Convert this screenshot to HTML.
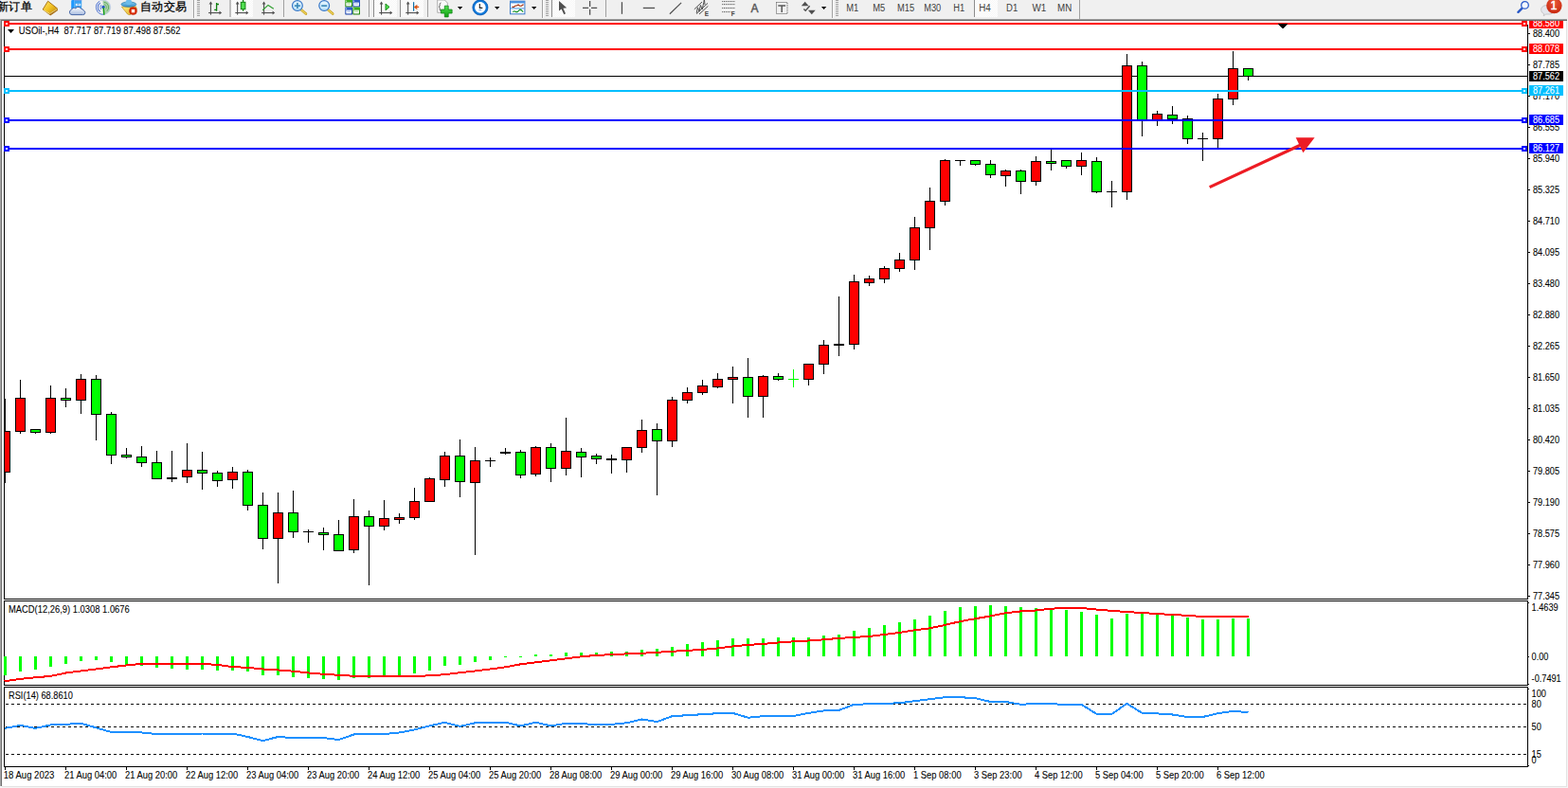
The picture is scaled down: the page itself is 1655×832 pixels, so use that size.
<!DOCTYPE html>
<html><head><meta charset="utf-8"><title>USOil H4</title>
<style>html,body{margin:0;padding:0;background:#fff;overflow:hidden}svg{display:block}text{font-family:"Liberation Sans",sans-serif;white-space:pre}</style>
</head><body>
<svg width="1655" height="832" viewBox="0 0 1655 832">
<rect x="0" y="0" width="1655" height="832" fill="#fff"/>
<rect x="0" y="0" width="1655" height="20" fill="#f0f0f0"/>
<rect x="0" y="20" width="1654" height="1" fill="#a0a0a0"/>
<rect x="1" y="21" width="1653" height="1" fill="#696969"/>
<rect x="0" y="20" width="1" height="811" fill="#a6a6a6"/>
<rect x="1" y="21" width="1" height="809" fill="#6e6e6e"/>
<rect x="1653" y="22" width="1" height="808" fill="#e3e3e3"/>
<rect x="1654" y="20" width="1" height="812" fill="#f6f6f6"/>
<rect x="0" y="830" width="1655" height="2" fill="#f6f6f6"/>
<rect x="2" y="830" width="1652" height="1" fill="#e3e3e3"/>
<g shape-rendering="crispEdges">
<rect x="5" y="80" width="1607" height="1" fill="#000"/>
<clipPath id="cc"><rect x="5" y="22" width="1607" height="610"/></clipPath><g clip-path="url(#cc)">
<rect x="5" y="421" width="1" height="89" fill="#000"/>
<rect x="0" y="455" width="11" height="44" fill="#000"/>
<rect x="1" y="456" width="9" height="42" fill="#ff0000"/>
<rect x="21" y="401" width="1" height="57" fill="#000"/>
<rect x="16" y="420" width="11" height="36" fill="#000"/>
<rect x="17" y="421" width="9" height="34" fill="#ff0000"/>
<rect x="37" y="453" width="1" height="5" fill="#000"/>
<rect x="32" y="453" width="11" height="4" fill="#000"/>
<rect x="33" y="454" width="9" height="2" fill="#00ff00"/>
<rect x="53" y="407" width="1" height="51" fill="#000"/>
<rect x="48" y="420" width="11" height="37" fill="#000"/>
<rect x="49" y="421" width="9" height="35" fill="#ff0000"/>
<rect x="69" y="410" width="1" height="20" fill="#000"/>
<rect x="64" y="420" width="11" height="3" fill="#000"/>
<rect x="65" y="421" width="9" height="1" fill="#00ff00"/>
<rect x="85" y="395" width="1" height="42" fill="#000"/>
<rect x="80" y="400" width="11" height="23" fill="#000"/>
<rect x="81" y="401" width="9" height="21" fill="#ff0000"/>
<rect x="101" y="396" width="1" height="69" fill="#000"/>
<rect x="96" y="400" width="11" height="38" fill="#000"/>
<rect x="97" y="401" width="9" height="36" fill="#00ff00"/>
<rect x="117" y="435" width="1" height="55" fill="#000"/>
<rect x="112" y="437" width="11" height="44" fill="#000"/>
<rect x="113" y="438" width="9" height="42" fill="#00ff00"/>
<rect x="133" y="473" width="1" height="11" fill="#000"/>
<rect x="128" y="480" width="11" height="3" fill="#000"/>
<rect x="129" y="481" width="9" height="1" fill="#00ff00"/>
<rect x="149" y="471" width="1" height="22" fill="#000"/>
<rect x="144" y="482" width="11" height="7" fill="#000"/>
<rect x="145" y="483" width="9" height="5" fill="#00ff00"/>
<rect x="165" y="476" width="1" height="30" fill="#000"/>
<rect x="160" y="488" width="11" height="18" fill="#000"/>
<rect x="161" y="489" width="9" height="16" fill="#00ff00"/>
<rect x="181" y="476" width="1" height="33" fill="#000"/>
<rect x="176" y="504" width="11" height="2" fill="#000"/>
<rect x="197" y="468" width="1" height="42" fill="#000"/>
<rect x="192" y="496" width="11" height="8" fill="#000"/>
<rect x="193" y="497" width="9" height="6" fill="#ff0000"/>
<rect x="213" y="477" width="1" height="40" fill="#000"/>
<rect x="208" y="496" width="11" height="4" fill="#000"/>
<rect x="209" y="497" width="9" height="2" fill="#00ff00"/>
<rect x="229" y="497" width="1" height="17" fill="#000"/>
<rect x="224" y="499" width="11" height="9" fill="#000"/>
<rect x="225" y="500" width="9" height="7" fill="#00ff00"/>
<rect x="245" y="493" width="1" height="23" fill="#000"/>
<rect x="240" y="498" width="11" height="9" fill="#000"/>
<rect x="241" y="499" width="9" height="7" fill="#ff0000"/>
<rect x="261" y="496" width="1" height="43" fill="#000"/>
<rect x="256" y="498" width="11" height="36" fill="#000"/>
<rect x="257" y="499" width="9" height="34" fill="#00ff00"/>
<rect x="277" y="520" width="1" height="60" fill="#000"/>
<rect x="272" y="533" width="11" height="36" fill="#000"/>
<rect x="273" y="534" width="9" height="34" fill="#00ff00"/>
<rect x="293" y="520" width="1" height="96" fill="#000"/>
<rect x="288" y="541" width="11" height="28" fill="#000"/>
<rect x="289" y="542" width="9" height="26" fill="#ff0000"/>
<rect x="309" y="518" width="1" height="50" fill="#000"/>
<rect x="304" y="541" width="11" height="21" fill="#000"/>
<rect x="305" y="542" width="9" height="19" fill="#00ff00"/>
<rect x="325" y="559" width="1" height="14" fill="#000"/>
<rect x="320" y="561" width="11" height="1" fill="#000"/>
<rect x="341" y="557" width="1" height="24" fill="#000"/>
<rect x="336" y="562" width="11" height="3" fill="#000"/>
<rect x="337" y="563" width="9" height="1" fill="#00ff00"/>
<rect x="357" y="549" width="1" height="32" fill="#000"/>
<rect x="352" y="564" width="11" height="18" fill="#000"/>
<rect x="353" y="565" width="9" height="16" fill="#00ff00"/>
<rect x="373" y="527" width="1" height="57" fill="#000"/>
<rect x="368" y="545" width="11" height="36" fill="#000"/>
<rect x="369" y="546" width="9" height="34" fill="#ff0000"/>
<rect x="389" y="539" width="1" height="79" fill="#000"/>
<rect x="384" y="545" width="11" height="11" fill="#000"/>
<rect x="385" y="546" width="9" height="9" fill="#00ff00"/>
<rect x="405" y="528" width="1" height="32" fill="#000"/>
<rect x="400" y="547" width="11" height="9" fill="#000"/>
<rect x="401" y="548" width="9" height="7" fill="#ff0000"/>
<rect x="421" y="542" width="1" height="11" fill="#000"/>
<rect x="416" y="546" width="11" height="3" fill="#000"/>
<rect x="417" y="547" width="9" height="1" fill="#ff0000"/>
<rect x="437" y="515" width="1" height="34" fill="#000"/>
<rect x="432" y="529" width="11" height="18" fill="#000"/>
<rect x="433" y="530" width="9" height="16" fill="#ff0000"/>
<rect x="453" y="504" width="1" height="25" fill="#000"/>
<rect x="448" y="505" width="11" height="25" fill="#000"/>
<rect x="449" y="506" width="9" height="23" fill="#ff0000"/>
<rect x="469" y="477" width="1" height="37" fill="#000"/>
<rect x="464" y="481" width="11" height="26" fill="#000"/>
<rect x="465" y="482" width="9" height="24" fill="#ff0000"/>
<rect x="485" y="464" width="1" height="61" fill="#000"/>
<rect x="480" y="481" width="11" height="28" fill="#000"/>
<rect x="481" y="482" width="9" height="26" fill="#00ff00"/>
<rect x="501" y="472" width="1" height="114" fill="#000"/>
<rect x="496" y="486" width="11" height="24" fill="#000"/>
<rect x="497" y="487" width="9" height="22" fill="#ff0000"/>
<rect x="517" y="483" width="1" height="10" fill="#000"/>
<rect x="512" y="486" width="11" height="1" fill="#000"/>
<rect x="533" y="473" width="1" height="7" fill="#000"/>
<rect x="528" y="477" width="11" height="2" fill="#000"/>
<rect x="549" y="475" width="1" height="30" fill="#000"/>
<rect x="544" y="477" width="11" height="25" fill="#000"/>
<rect x="545" y="478" width="9" height="23" fill="#00ff00"/>
<rect x="565" y="471" width="1" height="32" fill="#000"/>
<rect x="560" y="472" width="11" height="29" fill="#000"/>
<rect x="561" y="473" width="9" height="27" fill="#ff0000"/>
<rect x="581" y="468" width="1" height="41" fill="#000"/>
<rect x="576" y="472" width="11" height="23" fill="#000"/>
<rect x="577" y="473" width="9" height="21" fill="#00ff00"/>
<rect x="597" y="441" width="1" height="61" fill="#000"/>
<rect x="592" y="476" width="11" height="19" fill="#000"/>
<rect x="593" y="477" width="9" height="17" fill="#ff0000"/>
<rect x="613" y="473" width="1" height="31" fill="#000"/>
<rect x="608" y="477" width="11" height="6" fill="#000"/>
<rect x="609" y="478" width="9" height="4" fill="#00ff00"/>
<rect x="629" y="479" width="1" height="11" fill="#000"/>
<rect x="624" y="481" width="11" height="4" fill="#000"/>
<rect x="625" y="482" width="9" height="2" fill="#00ff00"/>
<rect x="645" y="480" width="1" height="20" fill="#000"/>
<rect x="640" y="484" width="11" height="2" fill="#000"/>
<rect x="661" y="472" width="1" height="27" fill="#000"/>
<rect x="656" y="472" width="11" height="14" fill="#000"/>
<rect x="657" y="473" width="9" height="12" fill="#ff0000"/>
<rect x="677" y="443" width="1" height="35" fill="#000"/>
<rect x="672" y="454" width="11" height="19" fill="#000"/>
<rect x="673" y="455" width="9" height="17" fill="#ff0000"/>
<rect x="693" y="447" width="1" height="76" fill="#000"/>
<rect x="688" y="453" width="11" height="13" fill="#000"/>
<rect x="689" y="454" width="9" height="11" fill="#00ff00"/>
<rect x="709" y="419" width="1" height="53" fill="#000"/>
<rect x="704" y="422" width="11" height="44" fill="#000"/>
<rect x="705" y="423" width="9" height="42" fill="#ff0000"/>
<rect x="725" y="409" width="1" height="17" fill="#000"/>
<rect x="720" y="414" width="11" height="9" fill="#000"/>
<rect x="721" y="415" width="9" height="7" fill="#ff0000"/>
<rect x="741" y="401" width="1" height="16" fill="#000"/>
<rect x="736" y="407" width="11" height="8" fill="#000"/>
<rect x="737" y="408" width="9" height="6" fill="#ff0000"/>
<rect x="757" y="394" width="1" height="16" fill="#000"/>
<rect x="752" y="400" width="11" height="9" fill="#000"/>
<rect x="753" y="401" width="9" height="7" fill="#ff0000"/>
<rect x="773" y="387" width="1" height="39" fill="#000"/>
<rect x="768" y="398" width="11" height="3" fill="#000"/>
<rect x="769" y="399" width="9" height="1" fill="#ff0000"/>
<rect x="789" y="378" width="1" height="63" fill="#000"/>
<rect x="784" y="398" width="11" height="21" fill="#000"/>
<rect x="785" y="399" width="9" height="19" fill="#00ff00"/>
<rect x="805" y="396" width="1" height="45" fill="#000"/>
<rect x="800" y="397" width="11" height="22" fill="#000"/>
<rect x="801" y="398" width="9" height="20" fill="#ff0000"/>
<rect x="821" y="394" width="1" height="8" fill="#000"/>
<rect x="816" y="397" width="11" height="4" fill="#000"/>
<rect x="817" y="398" width="9" height="2" fill="#00ff00"/>
<rect x="837" y="390" width="1" height="19" fill="#00ff00"/>
<rect x="832" y="400" width="11" height="1" fill="#00ff00"/>
<rect x="853" y="384" width="1" height="23" fill="#000"/>
<rect x="848" y="384" width="11" height="17" fill="#000"/>
<rect x="849" y="385" width="9" height="15" fill="#ff0000"/>
<rect x="869" y="359" width="1" height="36" fill="#000"/>
<rect x="864" y="364" width="11" height="21" fill="#000"/>
<rect x="865" y="365" width="9" height="19" fill="#ff0000"/>
<rect x="885" y="313" width="1" height="63" fill="#000"/>
<rect x="880" y="363" width="11" height="2" fill="#000"/>
<rect x="901" y="290" width="1" height="79" fill="#000"/>
<rect x="896" y="297" width="11" height="67" fill="#000"/>
<rect x="897" y="298" width="9" height="65" fill="#ff0000"/>
<rect x="917" y="291" width="1" height="11" fill="#000"/>
<rect x="912" y="294" width="11" height="5" fill="#000"/>
<rect x="913" y="295" width="9" height="3" fill="#ff0000"/>
<rect x="933" y="281" width="1" height="18" fill="#000"/>
<rect x="928" y="283" width="11" height="12" fill="#000"/>
<rect x="929" y="284" width="9" height="10" fill="#ff0000"/>
<rect x="949" y="267" width="1" height="20" fill="#000"/>
<rect x="944" y="274" width="11" height="10" fill="#000"/>
<rect x="945" y="275" width="9" height="8" fill="#ff0000"/>
<rect x="965" y="229" width="1" height="56" fill="#000"/>
<rect x="960" y="240" width="11" height="35" fill="#000"/>
<rect x="961" y="241" width="9" height="33" fill="#ff0000"/>
<rect x="981" y="198" width="1" height="66" fill="#000"/>
<rect x="976" y="212" width="11" height="29" fill="#000"/>
<rect x="977" y="213" width="9" height="27" fill="#ff0000"/>
<rect x="997" y="168" width="1" height="49" fill="#000"/>
<rect x="992" y="169" width="11" height="44" fill="#000"/>
<rect x="993" y="170" width="9" height="42" fill="#ff0000"/>
<rect x="1013" y="169" width="1" height="6" fill="#000"/>
<rect x="1008" y="169" width="11" height="1" fill="#000"/>
<rect x="1029" y="169" width="1" height="6" fill="#000"/>
<rect x="1024" y="169" width="11" height="5" fill="#000"/>
<rect x="1025" y="170" width="9" height="3" fill="#00ff00"/>
<rect x="1045" y="169" width="1" height="19" fill="#000"/>
<rect x="1040" y="173" width="11" height="12" fill="#000"/>
<rect x="1041" y="174" width="9" height="10" fill="#00ff00"/>
<rect x="1061" y="179" width="1" height="18" fill="#000"/>
<rect x="1056" y="180" width="11" height="6" fill="#000"/>
<rect x="1057" y="181" width="9" height="4" fill="#ff0000"/>
<rect x="1077" y="179" width="1" height="26" fill="#000"/>
<rect x="1072" y="180" width="11" height="12" fill="#000"/>
<rect x="1073" y="181" width="9" height="10" fill="#00ff00"/>
<rect x="1093" y="165" width="1" height="31" fill="#000"/>
<rect x="1088" y="170" width="11" height="22" fill="#000"/>
<rect x="1089" y="171" width="9" height="20" fill="#ff0000"/>
<rect x="1109" y="157" width="1" height="23" fill="#000"/>
<rect x="1104" y="170" width="11" height="3" fill="#000"/>
<rect x="1105" y="171" width="9" height="1" fill="#00ff00"/>
<rect x="1125" y="169" width="1" height="9" fill="#000"/>
<rect x="1120" y="169" width="11" height="7" fill="#000"/>
<rect x="1121" y="170" width="9" height="5" fill="#00ff00"/>
<rect x="1141" y="161" width="1" height="24" fill="#000"/>
<rect x="1136" y="169" width="11" height="7" fill="#000"/>
<rect x="1137" y="170" width="9" height="5" fill="#ff0000"/>
<rect x="1157" y="166" width="1" height="38" fill="#000"/>
<rect x="1152" y="170" width="11" height="33" fill="#000"/>
<rect x="1153" y="171" width="9" height="31" fill="#00ff00"/>
<rect x="1173" y="191" width="1" height="28" fill="#000"/>
<rect x="1168" y="202" width="11" height="1" fill="#000"/>
<rect x="1189" y="57" width="1" height="154" fill="#000"/>
<rect x="1184" y="69" width="11" height="134" fill="#000"/>
<rect x="1185" y="70" width="9" height="132" fill="#ff0000"/>
<rect x="1205" y="65" width="1" height="79" fill="#000"/>
<rect x="1200" y="69" width="11" height="58" fill="#000"/>
<rect x="1201" y="70" width="9" height="56" fill="#00ff00"/>
<rect x="1221" y="117" width="1" height="16" fill="#000"/>
<rect x="1216" y="120" width="11" height="7" fill="#000"/>
<rect x="1217" y="121" width="9" height="5" fill="#ff0000"/>
<rect x="1237" y="112" width="1" height="19" fill="#000"/>
<rect x="1232" y="121" width="11" height="5" fill="#000"/>
<rect x="1233" y="122" width="9" height="3" fill="#00ff00"/>
<rect x="1253" y="122" width="1" height="30" fill="#000"/>
<rect x="1248" y="125" width="11" height="22" fill="#000"/>
<rect x="1249" y="126" width="9" height="20" fill="#00ff00"/>
<rect x="1269" y="140" width="1" height="30" fill="#000"/>
<rect x="1264" y="146" width="11" height="1" fill="#000"/>
<rect x="1285" y="99" width="1" height="57" fill="#000"/>
<rect x="1280" y="104" width="11" height="43" fill="#000"/>
<rect x="1281" y="105" width="9" height="41" fill="#ff0000"/>
<rect x="1301" y="54" width="1" height="57" fill="#000"/>
<rect x="1296" y="72" width="11" height="33" fill="#000"/>
<rect x="1297" y="73" width="9" height="31" fill="#ff0000"/>
<rect x="1317" y="72" width="1" height="13" fill="#000"/>
<rect x="1312" y="72" width="11" height="9" fill="#000"/>
<rect x="1313" y="73" width="9" height="7" fill="#00ff00"/>
</g>
<rect x="4" y="22" width="1" height="788" fill="#000"/>
<rect x="1612" y="26" width="1" height="784" fill="#000"/>
<rect x="4" y="632" width="1609" height="1" fill="#000"/>
<rect x="4" y="634" width="1609" height="1" fill="#000"/>
<rect x="4" y="723" width="1609" height="1" fill="#000"/>
<rect x="4" y="725" width="1609" height="1" fill="#000"/>
<rect x="4" y="809" width="1609" height="1" fill="#000"/>
<rect x="4" y="633" width="1609" height="1" fill="#fff"/>
<rect x="4" y="724" width="1609" height="1" fill="#fff"/>
<rect x="5" y="24" width="1607" height="2" fill="#ff0000"/>
<rect x="4" y="22" width="6" height="6" fill="#ff0000"/>
<rect x="6" y="24" width="2" height="2" fill="#fff"/>
<rect x="1606" y="22" width="6" height="6" fill="#ff0000"/>
<rect x="1608" y="24" width="2" height="2" fill="#fff"/>
<rect x="5" y="51" width="1607" height="2" fill="#ff0000"/>
<rect x="4" y="49" width="6" height="6" fill="#ff0000"/>
<rect x="6" y="51" width="2" height="2" fill="#fff"/>
<rect x="1606" y="49" width="6" height="6" fill="#ff0000"/>
<rect x="1608" y="51" width="2" height="2" fill="#fff"/>
<rect x="5" y="95" width="1607" height="2" fill="#00bfff"/>
<rect x="4" y="93" width="6" height="6" fill="#00bfff"/>
<rect x="6" y="95" width="2" height="2" fill="#fff"/>
<rect x="1606" y="93" width="6" height="6" fill="#00bfff"/>
<rect x="1608" y="95" width="2" height="2" fill="#fff"/>
<rect x="5" y="126" width="1607" height="2" fill="#0000ff"/>
<rect x="4" y="124" width="6" height="6" fill="#0000ff"/>
<rect x="6" y="126" width="2" height="2" fill="#fff"/>
<rect x="1606" y="124" width="6" height="6" fill="#0000ff"/>
<rect x="1608" y="126" width="2" height="2" fill="#fff"/>
<rect x="5" y="156" width="1607" height="2" fill="#0000ff"/>
<rect x="4" y="154" width="6" height="6" fill="#0000ff"/>
<rect x="6" y="156" width="2" height="2" fill="#fff"/>
<rect x="1606" y="154" width="6" height="6" fill="#0000ff"/>
<rect x="1608" y="156" width="2" height="2" fill="#fff"/>
<rect x="4" y="693" width="3" height="20" fill="#00ff00"/>
<rect x="20" y="693" width="3" height="16" fill="#00ff00"/>
<rect x="36" y="693" width="3" height="14" fill="#00ff00"/>
<rect x="52" y="693" width="3" height="11" fill="#00ff00"/>
<rect x="68" y="693" width="3" height="8" fill="#00ff00"/>
<rect x="84" y="693" width="3" height="5" fill="#00ff00"/>
<rect x="100" y="693" width="3" height="4" fill="#00ff00"/>
<rect x="116" y="693" width="3" height="6" fill="#00ff00"/>
<rect x="132" y="693" width="3" height="9" fill="#00ff00"/>
<rect x="148" y="693" width="3" height="10" fill="#00ff00"/>
<rect x="164" y="693" width="3" height="12" fill="#00ff00"/>
<rect x="180" y="693" width="3" height="13" fill="#00ff00"/>
<rect x="196" y="693" width="3" height="14" fill="#00ff00"/>
<rect x="212" y="693" width="3" height="14" fill="#00ff00"/>
<rect x="228" y="693" width="3" height="15" fill="#00ff00"/>
<rect x="244" y="693" width="3" height="15" fill="#00ff00"/>
<rect x="260" y="693" width="3" height="16" fill="#00ff00"/>
<rect x="276" y="693" width="3" height="20" fill="#00ff00"/>
<rect x="292" y="693" width="3" height="20" fill="#00ff00"/>
<rect x="308" y="693" width="3" height="22" fill="#00ff00"/>
<rect x="324" y="693" width="3" height="23" fill="#00ff00"/>
<rect x="340" y="693" width="3" height="24" fill="#00ff00"/>
<rect x="356" y="693" width="3" height="25" fill="#00ff00"/>
<rect x="372" y="693" width="3" height="23" fill="#00ff00"/>
<rect x="388" y="693" width="3" height="23" fill="#00ff00"/>
<rect x="404" y="693" width="3" height="21" fill="#00ff00"/>
<rect x="420" y="693" width="3" height="21" fill="#00ff00"/>
<rect x="436" y="693" width="3" height="18" fill="#00ff00"/>
<rect x="452" y="693" width="3" height="15" fill="#00ff00"/>
<rect x="468" y="693" width="3" height="10" fill="#00ff00"/>
<rect x="484" y="693" width="3" height="9" fill="#00ff00"/>
<rect x="500" y="693" width="3" height="6" fill="#00ff00"/>
<rect x="516" y="693" width="3" height="4" fill="#00ff00"/>
<rect x="532" y="693" width="3" height="1" fill="#00ff00"/>
<rect x="548" y="693" width="3" height="1" fill="#00ff00"/>
<rect x="564" y="691" width="3" height="2" fill="#00ff00"/>
<rect x="580" y="691" width="3" height="2" fill="#00ff00"/>
<rect x="596" y="689" width="3" height="4" fill="#00ff00"/>
<rect x="612" y="689" width="3" height="4" fill="#00ff00"/>
<rect x="628" y="689" width="3" height="4" fill="#00ff00"/>
<rect x="644" y="688" width="3" height="5" fill="#00ff00"/>
<rect x="660" y="688" width="3" height="5" fill="#00ff00"/>
<rect x="676" y="686" width="3" height="7" fill="#00ff00"/>
<rect x="692" y="685" width="3" height="8" fill="#00ff00"/>
<rect x="708" y="683" width="3" height="10" fill="#00ff00"/>
<rect x="724" y="680" width="3" height="13" fill="#00ff00"/>
<rect x="740" y="678" width="3" height="15" fill="#00ff00"/>
<rect x="756" y="676" width="3" height="17" fill="#00ff00"/>
<rect x="772" y="674" width="3" height="19" fill="#00ff00"/>
<rect x="788" y="674" width="3" height="19" fill="#00ff00"/>
<rect x="804" y="674" width="3" height="19" fill="#00ff00"/>
<rect x="820" y="673" width="3" height="20" fill="#00ff00"/>
<rect x="836" y="673" width="3" height="20" fill="#00ff00"/>
<rect x="852" y="673" width="3" height="20" fill="#00ff00"/>
<rect x="868" y="671" width="3" height="22" fill="#00ff00"/>
<rect x="884" y="670" width="3" height="23" fill="#00ff00"/>
<rect x="900" y="666" width="3" height="27" fill="#00ff00"/>
<rect x="916" y="663" width="3" height="30" fill="#00ff00"/>
<rect x="932" y="660" width="3" height="33" fill="#00ff00"/>
<rect x="948" y="657" width="3" height="36" fill="#00ff00"/>
<rect x="964" y="654" width="3" height="39" fill="#00ff00"/>
<rect x="980" y="650" width="3" height="43" fill="#00ff00"/>
<rect x="996" y="645" width="3" height="48" fill="#00ff00"/>
<rect x="1012" y="641" width="3" height="52" fill="#00ff00"/>
<rect x="1028" y="640" width="3" height="53" fill="#00ff00"/>
<rect x="1044" y="639" width="3" height="54" fill="#00ff00"/>
<rect x="1060" y="640" width="3" height="53" fill="#00ff00"/>
<rect x="1076" y="641" width="3" height="52" fill="#00ff00"/>
<rect x="1092" y="642" width="3" height="51" fill="#00ff00"/>
<rect x="1108" y="642" width="3" height="51" fill="#00ff00"/>
<rect x="1124" y="644" width="3" height="49" fill="#00ff00"/>
<rect x="1140" y="646" width="3" height="47" fill="#00ff00"/>
<rect x="1156" y="649" width="3" height="44" fill="#00ff00"/>
<rect x="1172" y="653" width="3" height="40" fill="#00ff00"/>
<rect x="1188" y="648" width="3" height="45" fill="#00ff00"/>
<rect x="1204" y="648" width="3" height="45" fill="#00ff00"/>
<rect x="1220" y="648" width="3" height="45" fill="#00ff00"/>
<rect x="1236" y="649" width="3" height="44" fill="#00ff00"/>
<rect x="1252" y="652" width="3" height="41" fill="#00ff00"/>
<rect x="1268" y="654" width="3" height="39" fill="#00ff00"/>
<rect x="1284" y="654" width="3" height="39" fill="#00ff00"/>
<rect x="1300" y="653" width="3" height="40" fill="#00ff00"/>
<rect x="1316" y="653" width="3" height="40" fill="#00ff00"/>
<line x1="6" y1="743.5" x2="1612" y2="743.5" stroke="#000" stroke-width="1" stroke-dasharray="3 3"/>
<line x1="6" y1="767.5" x2="1612" y2="767.5" stroke="#000" stroke-width="1" stroke-dasharray="3 3"/>
<line x1="6" y1="796.5" x2="1612" y2="796.5" stroke="#000" stroke-width="1" stroke-dasharray="3 3"/>
<rect x="1613" y="35" width="2" height="1" fill="#000"/>
<rect x="1613" y="68" width="2" height="1" fill="#000"/>
<rect x="1613" y="101" width="2" height="1" fill="#000"/>
<rect x="1613" y="134" width="2" height="1" fill="#000"/>
<rect x="1613" y="167" width="2" height="1" fill="#000"/>
<rect x="1613" y="200" width="2" height="1" fill="#000"/>
<rect x="1613" y="233" width="2" height="1" fill="#000"/>
<rect x="1613" y="266" width="2" height="1" fill="#000"/>
<rect x="1613" y="299" width="2" height="1" fill="#000"/>
<rect x="1613" y="332" width="2" height="1" fill="#000"/>
<rect x="1613" y="365" width="2" height="1" fill="#000"/>
<rect x="1613" y="398" width="2" height="1" fill="#000"/>
<rect x="1613" y="431" width="2" height="1" fill="#000"/>
<rect x="1613" y="464" width="2" height="1" fill="#000"/>
<rect x="1613" y="497" width="2" height="1" fill="#000"/>
<rect x="1613" y="530" width="2" height="1" fill="#000"/>
<rect x="1613" y="563" width="2" height="1" fill="#000"/>
<rect x="1613" y="596" width="2" height="1" fill="#000"/>
<rect x="1613" y="629" width="2" height="1" fill="#000"/>
<rect x="1613" y="636" width="1" height="1" fill="#000"/>
<rect x="1613" y="693" width="1" height="1" fill="#000"/>
<rect x="1613" y="722" width="1" height="1" fill="#000"/>
<rect x="1613" y="727" width="1" height="1" fill="#000"/>
<rect x="1613" y="808" width="1" height="1" fill="#000"/>
<rect x="5" y="810" width="1" height="3" fill="#000"/>
<rect x="69" y="810" width="1" height="3" fill="#000"/>
<rect x="133" y="810" width="1" height="3" fill="#000"/>
<rect x="197" y="810" width="1" height="3" fill="#000"/>
<rect x="261" y="810" width="1" height="3" fill="#000"/>
<rect x="325" y="810" width="1" height="3" fill="#000"/>
<rect x="389" y="810" width="1" height="3" fill="#000"/>
<rect x="453" y="810" width="1" height="3" fill="#000"/>
<rect x="517" y="810" width="1" height="3" fill="#000"/>
<rect x="581" y="810" width="1" height="3" fill="#000"/>
<rect x="645" y="810" width="1" height="3" fill="#000"/>
<rect x="709" y="810" width="1" height="3" fill="#000"/>
<rect x="773" y="810" width="1" height="3" fill="#000"/>
<rect x="837" y="810" width="1" height="3" fill="#000"/>
<rect x="901" y="810" width="1" height="3" fill="#000"/>
<rect x="965" y="810" width="1" height="3" fill="#000"/>
<rect x="1029" y="810" width="1" height="3" fill="#000"/>
<rect x="1093" y="810" width="1" height="3" fill="#000"/>
<rect x="1157" y="810" width="1" height="3" fill="#000"/>
<rect x="1221" y="810" width="1" height="3" fill="#000"/>
<rect x="1285" y="810" width="1" height="3" fill="#000"/>
<polygon points="1348,25 1359,25 1353.5,30.5" fill="#000"/>
</g>
<polyline shape-rendering="crispEdges" fill="none" stroke="#ff0000" stroke-width="2" points="4.6,719.3 21.5,716.9 37.5,715.3 53.5,713.9 69.5,710.5 85.5,708.5 101.5,706.5 117.5,704.3 133.5,702.5 149.5,700.9 165.5,700.9 181.5,700.9 197.5,700.9 213.5,700.9 229.5,701.9 245.5,704.1 261.5,704.9 277.5,706.5 293.5,707.5 309.5,708.7 325.5,710.5 341.5,711.8 357.5,712.8 373.5,713.8 389.5,713.8 405.5,713.8 421.5,713.8 437.5,713.8 453.5,713.4 469.5,712.2 485.5,710.2 501.5,708.5 517.5,706.5 533.5,704.3 549.5,701.3 565.5,699.3 581.5,697.3 597.5,695.3 613.5,693.3 629.5,691.9 645.5,691.2 661.5,690.4 677.5,689.8 693.5,688.8 709.5,687.8 725.5,686.8 741.5,685.9 757.5,684.5 773.5,682.5 789.5,680.9 805.5,679.9 821.5,678.5 837.5,677.3 853.5,676.5 869.5,675.3 885.5,673.9 901.5,672.9 917.5,671.9 933.5,669.9 949.5,667.9 965.5,665.3 981.5,663.3 997.5,659.9 1013.5,656.1 1029.5,653.2 1045.5,650.5 1061.5,647.2 1077.5,645.4 1093.5,644.5 1109.5,642.7 1125.5,641.9 1141.5,641.9 1157.5,643.6 1173.5,644.9 1189.5,646.1 1205.5,647.0 1221.5,648.1 1237.5,649.0 1253.5,649.9 1269.5,651.0 1285.5,651.0 1301.5,651.0 1317.5,651.0"/>
<polyline shape-rendering="crispEdges" fill="none" stroke="#1e90ff" stroke-width="2" stroke-linejoin="round" points="5.0,768.9 21.5,765.9 37.5,768.9 53.5,765.4 69.5,764.8 85.5,763.8 101.5,768.4 117.5,773.0 133.5,773.0 149.5,773.5 165.5,775.0 181.5,775.0 197.5,775.0 213.5,774.5 229.5,775.0 245.5,774.5 261.5,778.0 277.5,782.1 293.5,778.0 309.5,779.1 325.5,779.1 341.5,779.1 357.5,781.1 373.5,775.5 389.5,775.0 405.5,775.0 421.5,773.5 437.5,770.4 453.5,766.4 469.5,762.8 485.5,766.9 501.5,763.3 517.5,762.8 533.5,762.8 549.5,766.4 565.5,762.8 581.5,766.4 597.5,763.8 613.5,764.3 629.5,764.8 645.5,764.8 661.5,763.3 677.5,759.5 693.5,762.1 709.5,756.2 725.5,755.2 741.5,754.2 757.5,753.2 773.5,752.9 789.5,757.7 805.5,756.2 821.5,756.0 837.5,756.0 853.5,752.9 869.5,750.4 885.5,749.9 901.5,743.8 917.5,743.3 933.5,742.8 949.5,742.3 965.5,740.2 981.5,738.2 997.5,736.2 1013.5,736.2 1029.5,737.2 1045.5,741.0 1061.5,741.0 1077.5,743.8 1093.5,743.0 1109.5,743.3 1125.5,743.8 1141.5,743.8 1157.5,753.9 1173.5,753.9 1189.5,742.8 1205.5,752.9 1221.5,753.4 1237.5,754.5 1253.5,757.0 1269.5,757.0 1285.5,753.1 1301.5,750.9 1317.5,752.0"/>
<line x1="1276.7" y1="197.6" x2="1374" y2="152.5" stroke="#ed1c24" stroke-width="3.2"/>
<polygon points="1367.7,145.2 1387.6,145.3 1375.4,161.2" fill="#ed1c24"/>
<g font-family="'Liberation Sans', sans-serif">
<polygon points="8,31 15,31 11.5,35" fill="#000"/>
<text transform="translate(19.8,36) scale(0.925,1)" font-size="10.2" fill="#000" stroke="#000" stroke-width="0.08">USOil-,H4&#160; 87.717 87.719 87.498 87.562</text>
<text transform="translate(9,647) scale(0.92,1)" font-size="10.2" fill="#000" stroke="#000" stroke-width="0.08">MACD(12,26,9) 1.0308 1.0676</text>
<text transform="translate(9,738) scale(0.908,1)" font-size="10.2" fill="#000" stroke="#000" stroke-width="0.08">RSI(14) 68.8610</text>
<text transform="translate(1618,39) scale(0.898,1)" font-size="10.2" fill="#000" stroke="#000" stroke-width="0.08">88.400</text>
<text transform="translate(1618,72) scale(0.898,1)" font-size="10.2" fill="#000" stroke="#000" stroke-width="0.08">87.785</text>
<text transform="translate(1618,105) scale(0.898,1)" font-size="10.2" fill="#000" stroke="#000" stroke-width="0.08">87.170</text>
<text transform="translate(1618,138) scale(0.898,1)" font-size="10.2" fill="#000" stroke="#000" stroke-width="0.08">86.555</text>
<text transform="translate(1618,171) scale(0.898,1)" font-size="10.2" fill="#000" stroke="#000" stroke-width="0.08">85.940</text>
<text transform="translate(1618,204) scale(0.898,1)" font-size="10.2" fill="#000" stroke="#000" stroke-width="0.08">85.325</text>
<text transform="translate(1618,237) scale(0.898,1)" font-size="10.2" fill="#000" stroke="#000" stroke-width="0.08">84.710</text>
<text transform="translate(1618,270) scale(0.898,1)" font-size="10.2" fill="#000" stroke="#000" stroke-width="0.08">84.095</text>
<text transform="translate(1618,303) scale(0.898,1)" font-size="10.2" fill="#000" stroke="#000" stroke-width="0.08">83.480</text>
<text transform="translate(1618,336) scale(0.898,1)" font-size="10.2" fill="#000" stroke="#000" stroke-width="0.08">82.880</text>
<text transform="translate(1618,369) scale(0.898,1)" font-size="10.2" fill="#000" stroke="#000" stroke-width="0.08">82.265</text>
<text transform="translate(1618,402) scale(0.898,1)" font-size="10.2" fill="#000" stroke="#000" stroke-width="0.08">81.650</text>
<text transform="translate(1618,435) scale(0.898,1)" font-size="10.2" fill="#000" stroke="#000" stroke-width="0.08">81.035</text>
<text transform="translate(1618,468) scale(0.898,1)" font-size="10.2" fill="#000" stroke="#000" stroke-width="0.08">80.420</text>
<text transform="translate(1618,501) scale(0.898,1)" font-size="10.2" fill="#000" stroke="#000" stroke-width="0.08">79.805</text>
<text transform="translate(1618,534) scale(0.898,1)" font-size="10.2" fill="#000" stroke="#000" stroke-width="0.08">79.190</text>
<text transform="translate(1618,567) scale(0.898,1)" font-size="10.2" fill="#000" stroke="#000" stroke-width="0.08">78.575</text>
<text transform="translate(1618,600) scale(0.898,1)" font-size="10.2" fill="#000" stroke="#000" stroke-width="0.08">77.960</text>
<text transform="translate(1618,633) scale(0.898,1)" font-size="10.2" fill="#000" stroke="#000" stroke-width="0.08">77.345</text>
<text transform="translate(1616.6,645) scale(0.9,1)" font-size="10.2" fill="#000" stroke="#000" stroke-width="0.08">1.4639</text>
<text transform="translate(1616.6,697) scale(0.9,1)" font-size="10.2" fill="#000" stroke="#000" stroke-width="0.08">0.00</text>
<text transform="translate(1616.6,720) scale(0.9,1)" font-size="10.2" fill="#000" stroke="#000" stroke-width="0.08">-0.7491</text>
<text transform="translate(1616.6,736) scale(0.9,1)" font-size="10.2" fill="#000" stroke="#000" stroke-width="0.08">100</text>
<text transform="translate(1616.6,746.6) scale(0.9,1)" font-size="10.2" fill="#000" stroke="#000" stroke-width="0.08">80</text>
<text transform="translate(1616.6,771) scale(0.9,1)" font-size="10.2" fill="#000" stroke="#000" stroke-width="0.08">50</text>
<text transform="translate(1616.6,799.6) scale(0.9,1)" font-size="10.2" fill="#000" stroke="#000" stroke-width="0.08">15</text>
<text transform="translate(1616.6,806) scale(0.9,1)" font-size="10.2" fill="#000" stroke="#000" stroke-width="0.08">0</text>
<clipPath id="cl"><rect x="0" y="22" width="1655" height="810"/></clipPath><g clip-path="url(#cl)">
<rect x="1614" y="19" width="36" height="11" fill="#ff0000"/>
<text transform="translate(1618,28) scale(0.898,1)" font-size="10.2" fill="#fff" stroke="#fff" stroke-width="0.08">88.580</text>
</g>
<rect x="1614" y="46" width="36" height="11" fill="#ff0000"/>
<text transform="translate(1618,55) scale(0.898,1)" font-size="10.2" fill="#fff" stroke="#fff" stroke-width="0.08">88.078</text>
<rect x="1614" y="75" width="36" height="11" fill="#000"/>
<text transform="translate(1618,84) scale(0.898,1)" font-size="10.2" fill="#fff" stroke="#fff" stroke-width="0.08">87.562</text>
<rect x="1614" y="90" width="36" height="11" fill="#00bfff"/>
<text transform="translate(1618,99) scale(0.898,1)" font-size="10.2" fill="#fff" stroke="#fff" stroke-width="0.08">87.261</text>
<rect x="1614" y="121" width="36" height="11" fill="#0000ff"/>
<text transform="translate(1618,130) scale(0.898,1)" font-size="10.2" fill="#fff" stroke="#fff" stroke-width="0.08">86.685</text>
<rect x="1614" y="151" width="36" height="11" fill="#0000ff"/>
<text transform="translate(1618,160) scale(0.898,1)" font-size="10.2" fill="#fff" stroke="#fff" stroke-width="0.08">86.127</text>
<text transform="translate(3.8,822) scale(0.935,1)" font-size="10.2" fill="#000" stroke="#000" stroke-width="0.08">18 Aug 2023</text>
<text transform="translate(68,822) scale(0.92,1)" font-size="10.2" fill="#000" stroke="#000" stroke-width="0.08">21 Aug 04:00</text>
<text transform="translate(132,822) scale(0.92,1)" font-size="10.2" fill="#000" stroke="#000" stroke-width="0.08">21 Aug 20:00</text>
<text transform="translate(196,822) scale(0.92,1)" font-size="10.2" fill="#000" stroke="#000" stroke-width="0.08">22 Aug 12:00</text>
<text transform="translate(260,822) scale(0.92,1)" font-size="10.2" fill="#000" stroke="#000" stroke-width="0.08">23 Aug 04:00</text>
<text transform="translate(324,822) scale(0.92,1)" font-size="10.2" fill="#000" stroke="#000" stroke-width="0.08">23 Aug 20:00</text>
<text transform="translate(388,822) scale(0.92,1)" font-size="10.2" fill="#000" stroke="#000" stroke-width="0.08">24 Aug 12:00</text>
<text transform="translate(452,822) scale(0.92,1)" font-size="10.2" fill="#000" stroke="#000" stroke-width="0.08">25 Aug 04:00</text>
<text transform="translate(516,822) scale(0.92,1)" font-size="10.2" fill="#000" stroke="#000" stroke-width="0.08">25 Aug 20:00</text>
<text transform="translate(580,822) scale(0.92,1)" font-size="10.2" fill="#000" stroke="#000" stroke-width="0.08">28 Aug 08:00</text>
<text transform="translate(644,822) scale(0.92,1)" font-size="10.2" fill="#000" stroke="#000" stroke-width="0.08">29 Aug 00:00</text>
<text transform="translate(708,822) scale(0.92,1)" font-size="10.2" fill="#000" stroke="#000" stroke-width="0.08">29 Aug 16:00</text>
<text transform="translate(772,822) scale(0.92,1)" font-size="10.2" fill="#000" stroke="#000" stroke-width="0.08">30 Aug 08:00</text>
<text transform="translate(836,822) scale(0.92,1)" font-size="10.2" fill="#000" stroke="#000" stroke-width="0.08">31 Aug 00:00</text>
<text transform="translate(900,822) scale(0.92,1)" font-size="10.2" fill="#000" stroke="#000" stroke-width="0.08">31 Aug 16:00</text>
<text transform="translate(964,822) scale(0.92,1)" font-size="10.2" fill="#000" stroke="#000" stroke-width="0.08">1 Sep 08:00</text>
<text transform="translate(1028,822) scale(0.92,1)" font-size="10.2" fill="#000" stroke="#000" stroke-width="0.08">3 Sep 23:00</text>
<text transform="translate(1092,822) scale(0.92,1)" font-size="10.2" fill="#000" stroke="#000" stroke-width="0.08">4 Sep 12:00</text>
<text transform="translate(1156,822) scale(0.92,1)" font-size="10.2" fill="#000" stroke="#000" stroke-width="0.08">5 Sep 04:00</text>
<text transform="translate(1220,822) scale(0.92,1)" font-size="10.2" fill="#000" stroke="#000" stroke-width="0.08">5 Sep 20:00</text>
<text transform="translate(1284,822) scale(0.92,1)" font-size="10.2" fill="#000" stroke="#000" stroke-width="0.08">6 Sep 12:00</text>
</g>
<defs>
<pattern id="chk" width="2" height="2" patternUnits="userSpaceOnUse"><rect width="2" height="2" fill="#f6f6f6"/><rect width="1" height="1" fill="#fff"/><rect x="1" y="1" width="1" height="1" fill="#fff"/></pattern>
<linearGradient id="gold" x1="0" y1="0" x2="1" y2="1"><stop offset="0" stop-color="#ffe870"/><stop offset="0.5" stop-color="#f0c020"/><stop offset="1" stop-color="#b07810"/></linearGradient>
<linearGradient id="cloud" x1="0" y1="0" x2="0" y2="1"><stop offset="0" stop-color="#ffffff"/><stop offset="1" stop-color="#a8bce0"/></linearGradient>
<linearGradient id="lens" x1="0" y1="0" x2="0" y2="1"><stop offset="0" stop-color="#e8f6ff"/><stop offset="1" stop-color="#b8e0f8"/></linearGradient>
<linearGradient id="grn" x1="0" y1="0" x2="0" y2="1"><stop offset="0" stop-color="#40b820"/><stop offset="1" stop-color="#208010"/></linearGradient>
<linearGradient id="blu" x1="0" y1="0" x2="0" y2="1"><stop offset="0" stop-color="#3060d0"/><stop offset="1" stop-color="#1840a8"/></linearGradient>
<radialGradient id="badge" cx="0.5" cy="0.3" r="0.7"><stop offset="0" stop-color="#e85838"/><stop offset="1" stop-color="#c82810"/></radialGradient>
<linearGradient id="hat" x1="0" y1="0" x2="0" y2="1"><stop offset="0" stop-color="#80c8f0"/><stop offset="1" stop-color="#3890c8"/></linearGradient>
<linearGradient id="face" x1="0" y1="0" x2="1" y2="1"><stop offset="0" stop-color="#fff080"/><stop offset="1" stop-color="#e0a820"/></linearGradient>
<linearGradient id="plus" x1="0" y1="0" x2="0" y2="1"><stop offset="0" stop-color="#50e050"/><stop offset="1" stop-color="#10a010"/></linearGradient>
</defs>
<clipPath id="tbc"><rect x="0" y="0" width="1655" height="20"/></clipPath>
<g clip-path="url(#tbc)">
<text x="-2.9" y="11.2" font-size="12.3" textLength="36.5" lengthAdjust="spacing" fill="#000" stroke="#000" stroke-width="0.27" font-family="'Liberation Sans','Noto Sans CJK SC',sans-serif">新订单</text>
<text x="147.9" y="11.2" font-size="12.4" textLength="49" lengthAdjust="spacing" fill="#000" stroke="#000" stroke-width="0.27" font-family="'Liberation Sans','Noto Sans CJK SC',sans-serif">自动交易</text>
<polygon points="50.6,1.2 60.8,9.2 53,15.8 45.2,10" fill="url(#gold)" stroke="#a06808" stroke-width="0.9" stroke-linejoin="round"/>
<polygon points="60.9,9.2 61,11 53.2,16.4 52.2,14.2" fill="#a87018"/>
<polyline points="46,10.8 52.6,14.4 60.4,9.6" fill="none" stroke="#fff0a8" stroke-width="0.7"/>
<polygon points="75.2,0.6 78.6,-1 78.6,9.4 75.2,9.4" fill="#1e98ff"/>
<rect x="78.6" y="-1" width="7.6" height="10.4" fill="#3ba2f2"/>
<rect x="78.6" y="-1" width="7.6" height="1.6" fill="#8898e0"/>
<rect x="79.8" y="3.8" width="5.4" height="2.3" fill="#e8f4ff"/>
<rect x="81.2" y="4.5" width="3" height="0.8" fill="#3a80d0"/>
<path d="M76,15.6 a2.7,2.7 0 0 1 -0.6,-5.3 a3,3 0 0 1 4.4,-1.5 a3.5,3.5 0 0 1 6,0.7 a2.2,2.2 0 0 1 2.4,1.6 a2.3,2.3 0 0 1 -0.7,4.5 z" fill="url(#cloud)" stroke="#4868a8" stroke-width="1"/>
<path d="M109.1,7.7 L108.4,0.2 A7.6,7.6 0 0 1 110,15.3 Z" fill="#58b058" opacity="0.45"/>
<g fill="none">
<circle cx="109.1" cy="7.7" r="7.6" stroke="#b8c8e8" stroke-width="0.9" opacity="0.8"/>
<path d="M109.4,15.3 A7.6,7.6 0 0 1 105,1.3" stroke="#4068d0" stroke-width="1" opacity="0.8"/>
<path d="M106,12.4 A5.5,5.5 0 0 1 106,3" stroke="#4068d0" stroke-width="1.1" opacity="0.85"/>
<path d="M106.8,10 A3.2,3.2 0 0 1 107.2,5.1" stroke="#4068d0" stroke-width="1" opacity="0.8"/>
<path d="M109.6,2.2 A5.5,5.5 0 0 1 112.8,11.8" stroke="#489848" stroke-width="1" opacity="0.7"/>
<path d="M110,4.6 A3.2,3.2 0 0 1 111.6,9.8" stroke="#489848" stroke-width="0.9" opacity="0.6"/>
</g>
<circle cx="109" cy="7.5" r="1.7" fill="#2858c8"/>
<path d="M109.2,8.2 L109.9,15.8" stroke="#18a018" stroke-width="1.5" fill="none"/>
<polygon points="128.4,7.2 143.4,6.8 144.4,9.7 137.1,15.7 134.7,15" fill="url(#face)" stroke="#c09020" stroke-width="0.7" stroke-linejoin="round"/>
<ellipse cx="135.9" cy="4.6" rx="7.9" ry="2.7" fill="url(#hat)" stroke="#2878a8" stroke-width="0.7"/>
<ellipse cx="135.9" cy="2.2" rx="3.1" ry="2.9" fill="#6cbcea"/>
<circle cx="140.5" cy="11.6" r="4" fill="#dc2c08" stroke="#b01800" stroke-width="0.5"/>
<rect x="138.8" y="9.9" width="3.4" height="3.4" fill="#fff"/>
<rect x="204" y="0" width="1" height="19" fill="#a0a0a0"/>
<rect x="205" y="0" width="1" height="19" fill="#ffffff"/>
<rect x="208" y="0" width="3" height="1" fill="#a0a0a0"/>
<rect x="208" y="2" width="3" height="1" fill="#a0a0a0"/>
<rect x="208" y="4" width="3" height="1" fill="#a0a0a0"/>
<rect x="208" y="6" width="3" height="1" fill="#a0a0a0"/>
<rect x="208" y="8" width="3" height="1" fill="#a0a0a0"/>
<rect x="208" y="10" width="3" height="1" fill="#a0a0a0"/>
<rect x="208" y="12" width="3" height="1" fill="#a0a0a0"/>
<rect x="208" y="14" width="3" height="1" fill="#a0a0a0"/>
<rect x="208" y="16" width="3" height="1" fill="#a0a0a0"/>
<rect x="221.9" y="2.6" width="1.1" height="13" fill="#505050"/>
<rect x="220.1" y="13" width="13" height="1.1" fill="#505050"/>
<polygon points="222.45000000000002,1.6 220.6,4.4 224.3,4.4" fill="#505050"/>
<polygon points="234.1,13.55 231.5,11.6 231.5,15.5" fill="#505050"/>
<path d="M228.6,3 v8.8 M228.6,4.5 h2.4 M228.6,10.4 h-2.4" stroke="#108010" stroke-width="1.3" fill="none"/>
<rect x="243.5" y="0" width="23.5" height="18" fill="url(#chk)"/>
<rect x="242.5" y="0" width="1" height="18" fill="#8c8c8c"/>
<rect x="250.1" y="2.6" width="1.1" height="13" fill="#505050"/>
<rect x="248.29999999999998" y="13" width="13" height="1.1" fill="#505050"/>
<polygon points="250.65,1.6 248.79999999999998,4.4 252.5,4.4" fill="#505050"/>
<polygon points="262.3,13.55 259.7,11.6 259.7,15.5" fill="#505050"/>
<rect x="256" y="-1" width="1.2" height="12.8" fill="#108010"/>
<rect x="254.3" y="2.3" width="4.6" height="7.4" fill="#50e050" stroke="#108010" stroke-width="1"/>
<rect x="278" y="2.6" width="1.1" height="13" fill="#505050"/>
<rect x="276.2" y="13" width="13" height="1.1" fill="#505050"/>
<polygon points="278.55,1.6 276.7,4.4 280.4,4.4" fill="#505050"/>
<polygon points="290.2,13.55 287.6,11.6 287.6,15.5" fill="#505050"/>
<path d="M277.2,10.8 L283,5.4 L288.8,9.2" stroke="#30a030" stroke-width="1.2" fill="none"/>
<rect x="299" y="0" width="1" height="18" fill="#a0a0a0"/>
<line x1="317.9" y1="10.2" x2="322.9" y2="14.6" stroke="#c8a020" stroke-width="2.6" stroke-linecap="round"/>
<line x1="317.9" y1="10.2" x2="322.9" y2="14.6" stroke="#f0d860" stroke-width="1.2" stroke-linecap="round"/>
<circle cx="313.9" cy="6" r="5.4" fill="url(#lens)" stroke="#3878c8" stroke-width="1.2"/>
<rect x="310.9" y="5.3" width="6" height="1.6" fill="#3888b8"/>
<rect x="313.09999999999997" y="3" width="1.6" height="6" fill="#3888b8"/>
<line x1="346.2" y1="10.2" x2="351.2" y2="14.6" stroke="#c8a020" stroke-width="2.6" stroke-linecap="round"/>
<line x1="346.2" y1="10.2" x2="351.2" y2="14.6" stroke="#f0d860" stroke-width="1.2" stroke-linecap="round"/>
<circle cx="342.2" cy="6" r="5.4" fill="url(#lens)" stroke="#3878c8" stroke-width="1.2"/>
<rect x="339.2" y="5.3" width="6" height="1.6" fill="#3888b8"/>
<rect x="364.3" y="-0.5" width="7.7" height="7.9" rx="0.6" fill="url(#grn)"/>
<rect x="365.3" y="2.6" width="5.6" height="3.8" fill="#ffffff"/>
<rect x="366.3" y="3.6" width="3.6" height="0.9" fill="#90d080"/>
<rect x="365.1" y="0.7" width="1" height="1" fill="#e0f0e0"/>
<rect x="372.3" y="-0.5" width="7.7" height="7.9" rx="0.6" fill="url(#blu)"/>
<rect x="373.3" y="2.6" width="5.6" height="3.8" fill="#ffffff"/>
<rect x="374.3" y="3.6" width="3.6" height="0.9" fill="#88a8e8"/>
<rect x="373.1" y="0.7" width="1" height="1" fill="#e0f0e0"/>
<rect x="364.3" y="7.5" width="7.7" height="7.9" rx="0.6" fill="url(#blu)"/>
<rect x="365.3" y="10.6" width="5.6" height="3.8" fill="#ffffff"/>
<rect x="366.3" y="11.6" width="3.6" height="0.9" fill="#88a8e8"/>
<rect x="365.1" y="8.7" width="1" height="1" fill="#e0f0e0"/>
<rect x="372.3" y="7.5" width="7.7" height="7.9" rx="0.6" fill="url(#grn)"/>
<rect x="373.3" y="10.6" width="5.6" height="3.8" fill="#ffffff"/>
<rect x="374.3" y="11.6" width="3.6" height="0.9" fill="#90d080"/>
<rect x="373.1" y="8.7" width="1" height="1" fill="#e0f0e0"/>
<rect x="389" y="0" width="1" height="18" fill="#a0a0a0"/>
<rect x="395" y="0" width="24" height="18" fill="url(#chk)"/>
<rect x="394" y="0" width="1" height="18" fill="#8c8c8c"/>
<rect x="402" y="2.6" width="1.1" height="13" fill="#505050"/>
<rect x="400.2" y="13" width="13" height="1.1" fill="#505050"/>
<polygon points="402.55,1.6 400.7,4.4 404.4,4.4" fill="#505050"/>
<polygon points="414.2,13.55 411.6,11.6 411.6,15.5" fill="#505050"/>
<polygon points="407,4 407,10.8 411,7.4" fill="#50e050" stroke="#108010" stroke-width="0.9"/>
<rect x="423" y="0" width="24" height="18" fill="url(#chk)"/>
<rect x="422" y="0" width="1" height="18" fill="#8c8c8c"/>
<rect x="430.1" y="2.6" width="1.1" height="13" fill="#505050"/>
<rect x="428.3" y="13" width="13" height="1.1" fill="#505050"/>
<polygon points="430.65000000000003,1.6 428.8,4.4 432.5,4.4" fill="#505050"/>
<polygon points="442.3,13.55 439.70000000000005,11.6 439.70000000000005,15.5" fill="#505050"/>
<rect x="436" y="2.2" width="1.2" height="9.5" fill="#1070a8"/>
<path d="M442.2,7.4 h-4 M440.4,5.4 l-2.6,2 l2.6,2" stroke="#d85010" stroke-width="1.2" fill="none"/>
<rect x="451" y="0" width="1" height="18" fill="#a0a0a0"/>
<path d="M461.7,0 h7.6 l3,3 v10.3 h-10.6 z" fill="#fafafa" stroke="#a8a8a8" stroke-width="0.9"/>
<path d="M465.5,3 q-1.3,0 -1.3,1.6 v1.2 q0,1.2 -1,1.4 q1,0.2 1,1.4 v1.4 q0,1.5 1.3,1.5" fill="none" stroke="#404040" stroke-width="0.8"/>
<path d="M469.3,6.2 h3.9 v3.9 h3.9 v3.9 h-3.9 v3.9 h-3.9 v-3.9 h-3.9 v-3.9 h3.9 z" fill="url(#plus)" stroke="#108818" stroke-width="0.8"/>
<polygon points="482.9,6.9 488.29999999999995,6.9 485.59999999999997,10.1" fill="#000"/>
<circle cx="506.9" cy="7.9" r="7" fill="#fff" stroke="#1078d8" stroke-width="2.4"/>
<circle cx="506.9" cy="7.9" r="8.1" fill="none" stroke="#0850a8" stroke-width="0.6"/>
<path d="M506.3,4 v4.4 h3" stroke="#202020" stroke-width="1.1" fill="none"/>
<rect x="505.4" y="10" width="2.8" height="0.9" fill="#60a0f0"/>
<polygon points="522,6.9 527.4,6.9 524.7,10.1" fill="#000"/>
<rect x="538.5" y="1.2" width="15.4" height="13.6" fill="#fff" stroke="#3878c8" stroke-width="1"/>
<rect x="538.5" y="1.2" width="15.4" height="2.2" fill="#4890e0"/>
<rect x="539" y="8.4" width="14.4" height="1" fill="#4890e0"/>
<path d="M540.4,7.4 h2 l1.6,-1.4 h1.6 l1.4,-1 l1.6,1.2 h1.8 l1.4,-1.2 h1" stroke="#a02808" stroke-width="1.1" fill="none"/>
<path d="M541.2,12.6 l1.8,-0.8 l1.6,0.8 h1.4 l2.8,-2.4 l1.4,0.4 l2,2" stroke="#109020" stroke-width="1.1" fill="none"/>
<polygon points="561,6.9 566.4,6.9 563.7,10.1" fill="#000"/>
<rect x="572" y="0" width="1" height="19" fill="#a0a0a0"/>
<rect x="573" y="0" width="1" height="19" fill="#ffffff"/>
<rect x="576" y="0" width="3" height="1" fill="#a0a0a0"/>
<rect x="576" y="2" width="3" height="1" fill="#a0a0a0"/>
<rect x="576" y="4" width="3" height="1" fill="#a0a0a0"/>
<rect x="576" y="6" width="3" height="1" fill="#a0a0a0"/>
<rect x="576" y="8" width="3" height="1" fill="#a0a0a0"/>
<rect x="576" y="10" width="3" height="1" fill="#a0a0a0"/>
<rect x="576" y="12" width="3" height="1" fill="#a0a0a0"/>
<rect x="576" y="14" width="3" height="1" fill="#a0a0a0"/>
<rect x="576" y="16" width="3" height="1" fill="#a0a0a0"/>
<rect x="583" y="0" width="24" height="18" fill="url(#chk)"/>
<rect x="582" y="0" width="1" height="18" fill="#8c8c8c"/>
<polygon points="590,1 590,11.6 592.6,9.4 595.3,15.2 597,14.3 594.4,8.8 598.2,8.3" fill="#505050"/>
<path d="M622.6,1 v6 M622.6,9.8 v6 M615,8.4 h6.2 M624,8.4 h6.2" stroke="#505050" stroke-width="1.3" fill="none"/>
<rect x="639" y="0" width="1" height="18" fill="#a0a0a0"/>
<rect x="655.8" y="2.2" width="1.3" height="12.6" fill="#505050"/>
<rect x="678.8" y="7.8" width="12.3" height="1.3" fill="#505050"/>
<line x1="706.9" y1="14.8" x2="719.1" y2="2.9" stroke="#505050" stroke-width="1.2"/>
<g stroke="#505050" stroke-width="1" fill="none"><line x1="732.8" y1="9.8" x2="741" y2="2"/><line x1="735" y1="14.6" x2="747" y2="3.4"/><line x1="738" y1="15" x2="747.4" y2="6.4"/><path d="M735.2,13.8 l1.2,-6 l1.6,4.4 l1.4,-6.8 l1.8,4.6 l1.6,-7.6 l0.6,-3.4 l0.6,6"/></g>
<text x="743.7" y="16.9" font-size="6.4" font-weight="bold" fill="#404040" font-family="'Liberation Sans',sans-serif">E</text>
<line x1="762.2" y1="1.6" x2="775.6" y2="1.6" stroke="#505050" stroke-width="1" stroke-dasharray="1 0.75"/>
<line x1="762.2" y1="4.6" x2="775.6" y2="4.6" stroke="#505050" stroke-width="1" stroke-dasharray="1 0.75"/>
<line x1="762.2" y1="8.5" x2="775.6" y2="8.5" stroke="#505050" stroke-width="1" stroke-dasharray="1 0.75"/>
<line x1="762.2" y1="12.6" x2="771.4000000000001" y2="12.6" stroke="#505050" stroke-width="1" stroke-dasharray="1 0.75"/>
<text x="771.8" y="16.9" font-size="6.4" font-weight="bold" fill="#404040" font-family="'Liberation Sans',sans-serif">F</text>
<text x="796.6" y="12.9" font-size="12" text-anchor="middle" fill="#585858" stroke="#585858" stroke-width="0.45" font-family="'Liberation Sans',sans-serif">A</text>
<rect x="819.5" y="2.5" width="11.5" height="12" fill="none" stroke="#505050" stroke-width="1" stroke-dasharray="1 1"/>
<path d="M821.3,6 h7.8 M825.2,6 v7" stroke="#585858" stroke-width="1.5" fill="none"/>
<polygon points="849.7,1.8 845.8,6.2 853.6,6.2" fill="#505050"/>
<polygon points="856.8,15.2 852.9,10.8 860.7,10.8" fill="#505050"/>
<path d="M848.4,9.4 l1.8,1.8 l4.4,-5" stroke="#505050" stroke-width="1.4" fill="none"/>
<polygon points="866.9,6.9 872.3,6.9 869.6,10.1" fill="#000"/>
<rect x="878" y="0" width="1" height="19" fill="#a0a0a0"/>
<rect x="879" y="0" width="1" height="19" fill="#ffffff"/>
<rect x="882" y="0" width="3" height="1" fill="#a0a0a0"/>
<rect x="882" y="2" width="3" height="1" fill="#a0a0a0"/>
<rect x="882" y="4" width="3" height="1" fill="#a0a0a0"/>
<rect x="882" y="6" width="3" height="1" fill="#a0a0a0"/>
<rect x="882" y="8" width="3" height="1" fill="#a0a0a0"/>
<rect x="882" y="10" width="3" height="1" fill="#a0a0a0"/>
<rect x="882" y="12" width="3" height="1" fill="#a0a0a0"/>
<rect x="882" y="14" width="3" height="1" fill="#a0a0a0"/>
<rect x="882" y="16" width="3" height="1" fill="#a0a0a0"/>
<rect x="1029" y="0" width="24" height="18" fill="url(#chk)"/>
<rect x="1028" y="0" width="1" height="18" fill="#8c8c8c"/>
<text x="893.2" y="12" font-size="10" textLength="13.0" lengthAdjust="spacingAndGlyphs" fill="#404040" font-family="'Liberation Sans',sans-serif">M1</text>
<text x="921.3" y="12" font-size="10" textLength="13.0" lengthAdjust="spacingAndGlyphs" fill="#404040" font-family="'Liberation Sans',sans-serif">M5</text>
<text x="947.1" y="12" font-size="10" textLength="18.1" lengthAdjust="spacingAndGlyphs" fill="#404040" font-family="'Liberation Sans',sans-serif">M15</text>
<text x="975.2" y="12" font-size="10" textLength="18.0" lengthAdjust="spacingAndGlyphs" fill="#404040" font-family="'Liberation Sans',sans-serif">M30</text>
<text x="1006.3" y="12" font-size="10" textLength="11.9" lengthAdjust="spacingAndGlyphs" fill="#404040" font-family="'Liberation Sans',sans-serif">H1</text>
<text x="1033.2" y="12" font-size="10" textLength="12.5" lengthAdjust="spacingAndGlyphs" fill="#404040" font-family="'Liberation Sans',sans-serif">H4</text>
<text x="1062.1" y="12" font-size="10" textLength="12.2" lengthAdjust="spacingAndGlyphs" fill="#404040" font-family="'Liberation Sans',sans-serif">D1</text>
<text x="1089.4" y="12" font-size="10" textLength="14.8" lengthAdjust="spacingAndGlyphs" fill="#404040" font-family="'Liberation Sans',sans-serif">W1</text>
<text x="1116.1" y="12" font-size="10" textLength="15.2" lengthAdjust="spacingAndGlyphs" fill="#404040" font-family="'Liberation Sans',sans-serif">MN</text>
<rect x="1139" y="0" width="1" height="20" fill="#a0a0a0"/>
<line x1="1606.4" y1="8.8" x2="1602.4" y2="12.8" stroke="#2858c8" stroke-width="2.4" stroke-linecap="round"/>
<circle cx="1609.5" cy="5.4" r="3.8" fill="#f4f8ff" stroke="#2858c8" stroke-width="1.3"/>
<path d="M1626.6,10.4 a5.6,4.6 0 0 1 5.6,-4.8 h3 a5.6,4.6 0 0 1 0,9.4 h-3.4 l-2.6,1.8 l0.4,-2.2 a5.2,4.6 0 0 1 -3,-4.2 z" fill="#e4e6ec" stroke="#b8b8b8" stroke-width="0.7"/>
<circle cx="1640.4" cy="6.1" r="8.2" fill="url(#badge)"/>
<text x="1640" y="10.2" font-size="12.4" text-anchor="middle" fill="#fff" stroke="#fff" stroke-width="0.5" font-family="'Liberation Sans',sans-serif">1</text>
</g>
</svg>
</body></html>
